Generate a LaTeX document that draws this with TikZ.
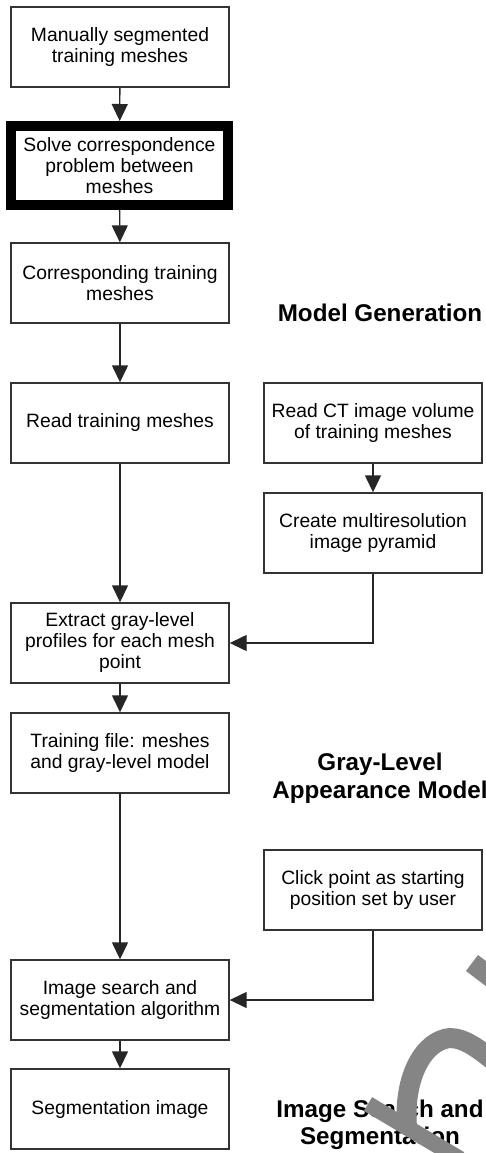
\documentclass[tikz,border=0pt]{standalone}
\usepackage{fontspec}
\setmainfont{Liberation Sans}
\usetikzlibrary{arrows.meta}
\begin{document}
\begin{tikzpicture}[x=1pt,y=-1pt,
  box/.style={draw=black!80, line width=1.4pt, fill=white, minimum width=218pt, minimum height=80pt,
    align=center, inner sep=0pt, font=\fontsize{19.3pt}{21pt}\selectfont},
  thickbox/.style={box, draw=black, line width=10pt, minimum width=217pt, minimum height=79pt},
  conn/.style={draw=black!85, line width=1.4pt, -{Triangle[length=17pt,width=16pt]}},
  title/.style={align=center, inner sep=0pt, font=\bfseries\fontsize{24.2pt}{27.5pt}\selectfont},
  mark stroke/.style={draw=black!48, line width=20pt}]
\useasboundingbox[fill=white] (0,0) rectangle (486,1153);
% left column
\node[box] (b1) at (120,47) {Manually segmented\\training meshes};
\node[thickbox] (b2) at (119.5,165.5) {Solve correspondence\\problem between\\meshes};
\node[box] (b3) at (120,283) {Corresponding training\\meshes};
\node[box] (b4) at (120,423) {Read training meshes};
\node[box] (b5) at (120,643) {Extract gray-level\\profiles for each mesh\\point};
\node[box] (b6) at (120,753) {Training file: meshes\\and gray-level model};
\node[box] (b7) at (120,1000) {Image search and\\segmentation algorithm};
\node[box] (b8) at (120,1109) {Segmentation image};
% right column
\node[box] (r1) at (373,423) {Read CT image volume\\of training meshes};
\node[box] (r2) at (373,533) {Create multiresolution\\image pyramid};
\node[box] (r3) at (373,890) {Click point as starting\\position set by user};
% titles
\node[title] (t1) at (380,313) {Model Generation};
\node[title] (t2) at (380,778) {Gray-Level\\Appearance Model};
\node[title] (t3) at (380,1125) {Image Search and\\Segmentation};
% connectors
\draw[conn] (b1) -- (b2);
\draw[conn] (b2) -- (b3);
\draw[conn] (b3) -- (b4);
\draw[conn] (b4) -- (b5);
\draw[conn] (b5) -- (b6);
\draw[conn] (b6) -- (b7);
\draw[conn] (b7) -- (b8);
\draw[conn] (r1) -- (r2);
\draw[conn] (r2.south) |- (b5.east);
\draw[conn] (r3.south) |- (b7.east);
% occluding strokes
\begin{scope}
\clip (0,0) rectangle (486,1153);
\draw[mark stroke] (472,963) -- (505,988);
\draw[mark stroke, line width=16pt] (368,1104) -- (460,1159);
\draw[mark stroke] (407,1127) .. controls (403,1075) and (425,1040) .. (450,1038) .. controls (465,1038) and (480,1050) .. (495,1062);
\end{scope}
\end{tikzpicture}
\end{document}
